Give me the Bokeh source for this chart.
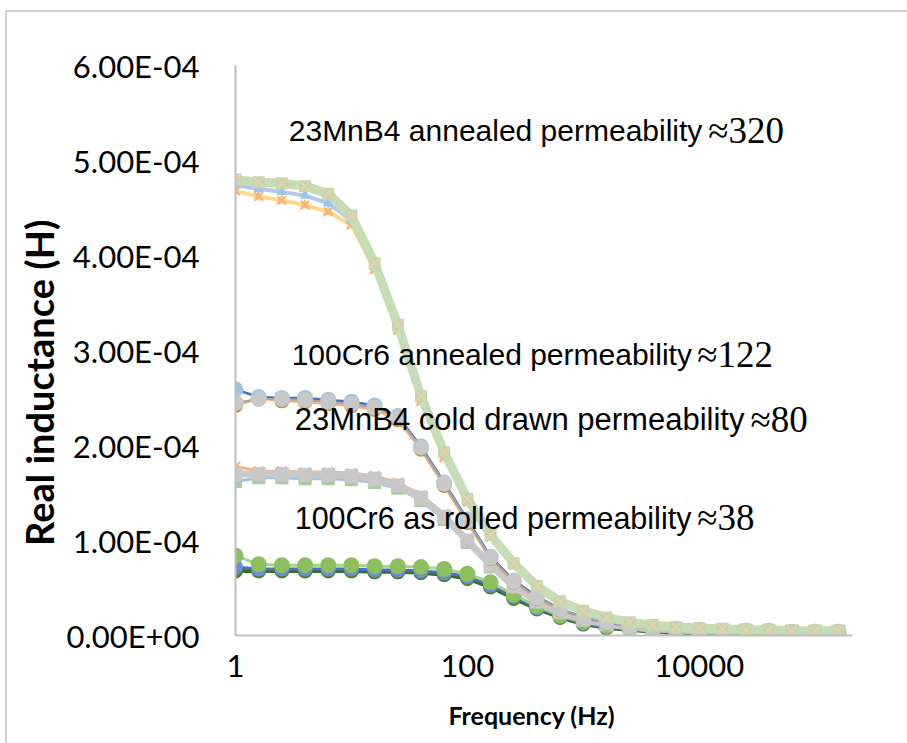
from bokeh.plotting import figure
from bokeh.models import FixedTicker, CustomJSTickFormatter, Label
from bokeh.embed import file_html
from bokeh.resources import INLINE

# Frequency (Hz)
freq = [1, 1.585, 2.512, 3.981, 6.310, 10, 15.85, 25.12, 39.81, 63.10,
        100, 158.5, 251.2, 398.1, 631.0, 1000, 1585, 2512, 3981, 6310,
        10000, 15850, 25120, 39810, 63100, 100000, 158500]

# Real inductance, in units of 1e-4 H
# 23MnB4 annealed (permeability ~320)
mnb4_ann_green = [4.80, 4.77, 4.76, 4.73, 4.65, 4.42, 3.92, 3.27, 2.52, 1.93, 1.44, 1.06, 0.76, 0.52,
                  0.36, 0.26, 0.19, 0.14, 0.11, 0.09, 0.08, 0.07, 0.06, 0.06, 0.05, 0.05, 0.05]
mnb4_ann_blue = [4.74, 4.70, 4.67, 4.63, 4.55, 4.37, 3.88, 3.24, 2.49, 1.90, 1.42, 1.04, 0.75, 0.51,
                 0.35, 0.25, 0.18, 0.13, 0.10, 0.08, 0.07, 0.06, 0.05, 0.05, 0.05, 0.04, 0.04]
mnb4_ann_orange = [4.68, 4.62, 4.58, 4.53, 4.46, 4.32, 3.85, 3.21, 2.46, 1.87, 1.40, 1.03, 0.74, 0.50,
                   0.35, 0.25, 0.18, 0.13, 0.10, 0.08, 0.07, 0.06, 0.05, 0.05, 0.04, 0.04, 0.04]

# 100Cr6 annealed (permeability ~122)
cr6_ann_gray = [2.45, 2.49, 2.49, 2.48, 2.46, 2.44, 2.40, 2.30, 1.98, 1.60, 1.21, 0.82, 0.57, 0.40,
                0.28, 0.19, 0.14, 0.10, 0.08, 0.07, 0.06, 0.05, 0.05, 0.05, 0.04, 0.04, 0.04]
cr6_ann_blue = [2.59, 2.51, 2.50, 2.50, 2.48, 2.46, 2.42, 2.31, 1.99, 1.61, 1.22, 0.83, 0.58, 0.41,
                0.28, 0.19, 0.14, 0.10, 0.08, 0.07, 0.06, 0.05, 0.05, 0.05, 0.04, 0.04, 0.04]
cr6_ann_gold = [2.42, 2.50, 2.47, 2.46, 2.44, 2.42, 2.38, 2.27, 1.96, 1.58, 1.19, 0.81, 0.56, 0.39,
                0.27, 0.19, 0.13, 0.10, 0.08, 0.06, 0.05, 0.05, 0.05, 0.04, 0.04, 0.04, 0.04]

# 23MnB4 cold drawn (permeability ~80)
mnb4_cd_gray = [1.70, 1.70, 1.70, 1.69, 1.69, 1.68, 1.65, 1.58, 1.45, 1.25, 1.00, 0.74, 0.52, 0.36,
                0.25, 0.17, 0.12, 0.09, 0.07, 0.06, 0.05, 0.05, 0.05, 0.04, 0.04, 0.04, 0.04]
mnb4_cd_blue = [1.62, 1.66, 1.66, 1.65, 1.65, 1.64, 1.61, 1.55, 1.42, 1.22, 0.98, 0.72, 0.51, 0.35,
                0.24, 0.16, 0.11, 0.08, 0.06, 0.05, 0.05, 0.04, 0.04, 0.04, 0.03, 0.03, 0.03]
mnb4_cd_orange = [1.78, 1.73, 1.73, 1.72, 1.72, 1.71, 1.68, 1.61, 1.48, 1.28, 1.02, 0.76, 0.53, 0.37,
                  0.26, 0.18, 0.13, 0.10, 0.08, 0.07, 0.06, 0.06, 0.05, 0.05, 0.05, 0.05, 0.05]

# 100Cr6 as rolled (permeability ~38)
cr6_roll_green = [0.84, 0.75, 0.74, 0.74, 0.74, 0.74, 0.73, 0.73, 0.72, 0.70, 0.65, 0.56, 0.43, 0.31,
                  0.21, 0.14, 0.10, 0.07, 0.05, 0.04, 0.03, 0.03, 0.02, 0.02, 0.02, 0.02, 0.02]
cr6_roll_blue = [0.72, 0.70, 0.70, 0.70, 0.70, 0.70, 0.69, 0.69, 0.68, 0.66, 0.62, 0.53, 0.41, 0.29,
                 0.20, 0.13, 0.09, 0.06, 0.05, 0.04, 0.03, 0.02, 0.02, 0.02, 0.01, 0.01, 0.01]
cr6_roll_dark = [0.68, 0.68, 0.68, 0.68, 0.68, 0.68, 0.67, 0.67, 0.66, 0.64, 0.60, 0.51, 0.39, 0.28,
                 0.19, 0.12, 0.08, 0.06, 0.04, 0.03, 0.02, 0.02, 0.01, 0.01, 0.01, 0.01, 0.01]

y_ticks = [0, 1e-4, 2e-4, 3e-4, 4e-4, 5e-4, 6e-4]
x_ticks = [1, 100, 10000]

x_title = "Frequency (Hz)"
y_title = "Real inductance (H)"

notes = ["23MnB4 annealed permeability", "100Cr6 annealed permeability",
         "23MnB4 cold drawn permeability", "100Cr6 as rolled permeability"]
notes_num = ["\u2248320", "\u2248122", "\u224880", "\u224838"]

UNIT = 1e-4
NBSP = "\u00a0"


def H(vals):
    return [v * UNIT for v in vals]


p = figure(width=902, height=733, x_axis_type="log", x_range=(1, 210000), y_range=(0, 6e-4),
           output_backend="svg", toolbar_location=None,
           min_border_left=228, min_border_right=57, min_border_top=53, min_border_bottom=110)
p.margin = (10, 0, 0, 5)
p.styles = {"border-top": "2px solid #D0D0D0", "border-left": "2px solid #D0D0D0"}
p.outline_line_color = None
p.grid.visible = False
p.background_fill_color = "white"
p.border_fill_color = "white"

# ---- 100Cr6 as rolled ----
p.line(freq, H(cr6_roll_dark), line_color="#3B6E22", line_width=4)
p.scatter(freq, H(cr6_roll_dark), marker="circle", size=15, fill_color="#4E7F2E", line_color=None)
p.line(freq, H(cr6_roll_blue), line_color="#4472C4", line_width=3)
p.scatter(freq, H(cr6_roll_blue), marker="circle", size=15, fill_color="#6A8FD0", line_color=None)
p.line(freq, H(cr6_roll_green), line_color="#A9D18E", line_width=3)
p.scatter(freq, H(cr6_roll_green), marker="circle", size=16, fill_color="#8DBF5F", line_color=None)

# ---- 23MnB4 cold drawn ----
p.line(freq, H(mnb4_cd_orange), line_color="#F4B183", line_width=3)
p.scatter(freq, H(mnb4_cd_orange), marker="x", size=13, line_color="#F4B183", line_width=2)
p.line(freq, H(mnb4_cd_blue), line_color="#9DC3E6", line_width=3)
p.scatter(freq, H(mnb4_cd_blue), marker="square", size=13, fill_color="#A9D18E", line_color=None)
p.scatter(freq, H(mnb4_cd_blue), marker="cross", size=13, line_color="#9DC3E6", line_width=2)
p.line(freq, H(mnb4_cd_gray), line_color="#C8C8C8", line_width=7)
p.scatter(freq, H(mnb4_cd_gray), marker="square", size=14, fill_color="#C8C8C8", line_color=None)

# ---- 100Cr6 annealed ----
p.line(freq, H(cr6_ann_gold), line_color="#F4B183", line_width=3)
p.scatter(freq, H(cr6_ann_gold), marker="circle", size=15, fill_color="#BF9A30", line_color=None)
p.line(freq, H(cr6_ann_blue), line_color="#4472C4", line_width=2.5)
p.scatter(freq, H(cr6_ann_blue), marker="circle", size=16, fill_color="#9DC3E6", line_color=None)
p.line(freq, H(cr6_ann_gray), line_color="#A5A5A5", line_width=2)
p.scatter(freq, H(cr6_ann_gray), marker="circle", size=16, fill_color="#C8C8C8", line_color=None)

# ---- 23MnB4 annealed ----
p.line(freq, H(mnb4_ann_orange), line_color="#FFD98A", line_width=4)
p.scatter(freq, H(mnb4_ann_orange), marker="triangle", size=11, fill_color="#FFC766", line_color=None)
p.scatter(freq, H(mnb4_ann_orange), marker="x", size=12, line_color="#F4B183", line_width=2)
p.line(freq, H(mnb4_ann_blue), line_color="#B4C7E7", line_width=4)
p.scatter(freq, H(mnb4_ann_blue), marker="triangle", size=11, fill_color="#9DC3E6", line_color=None)
p.line(freq, H(mnb4_ann_green), line_color="#C5DDB5", line_width=9)
p.scatter(freq, H(mnb4_ann_green), marker="square", size=12, fill_color="#BFD8AE", line_color=None)
p.scatter(freq, H(mnb4_ann_green), marker="x", size=14, line_color="#F8CBAD", line_width=1.5)

# ---- annotations ----
note_x = [2.88, 3.05, 3.24, 3.24]
note_y = [5.32e-4, 2.96e-4, 2.27e-4, 1.24e-4]
note_size = ["30px", "30px", "31px", "30.5px"]
num_x = [11970, 9610, 27650, 9610]
for t, x, y, s in zip(notes, note_x, note_y, note_size):
    p.add_layout(Label(x=x, y=y, text=t, text_font="Liberation Sans", text_font_size=s,
                       text_baseline="middle", text_align="left", text_color="black"))
for t, x, y in zip(notes_num, num_x, note_y):
    p.add_layout(Label(x=x, y=y, text=t, text_font="Liberation Serif", text_font_size="37px",
                       text_baseline="middle", text_align="left", text_color="black"))

# ---- axes ----
for ax in (p.xaxis[0], p.yaxis[0]):
    ax.axis_line_color = "#BFBFBF"
    ax.axis_line_width = 2
    ax.major_tick_line_color = None
    ax.minor_tick_line_color = None
    ax.major_label_text_font = "Lato"
    ax.major_label_text_font_size = "31px"
    ax.major_label_text_color = "black"
    ax.axis_label_text_font = "Lato"
    ax.axis_label_text_font_style = "bold"
    ax.axis_label_text_color = "black"

p.xaxis.ticker = FixedTicker(ticks=x_ticks)
p.xaxis.formatter = CustomJSTickFormatter(code="return tick.toFixed(0);")
p.xaxis.major_label_standoff = 13
p.xaxis.axis_label = x_title + NBSP * 4
p.xaxis.axis_label_text_font_size = "25px"
p.xaxis.axis_label_standoff = 20

p.yaxis.ticker = FixedTicker(ticks=y_ticks)
p.yaxis.formatter = CustomJSTickFormatter(code="""
const s = tick.toExponential(2).toUpperCase();
const parts = s.split("E");
const e = parseInt(parts[1]);
const sign = e < 0 ? "-" : "+";
const d = Math.abs(e).toString().padStart(2, "0");
return parts[0] + "E" + sign + d;
""")
p.yaxis.major_label_standoff = 30
p.yaxis.axis_label = y_title + NBSP * 7
p.yaxis.axis_label_text_font_size = "38px"
p.yaxis.axis_label_standoff = 1

open("out.html", "w").write(file_html(p, INLINE))
